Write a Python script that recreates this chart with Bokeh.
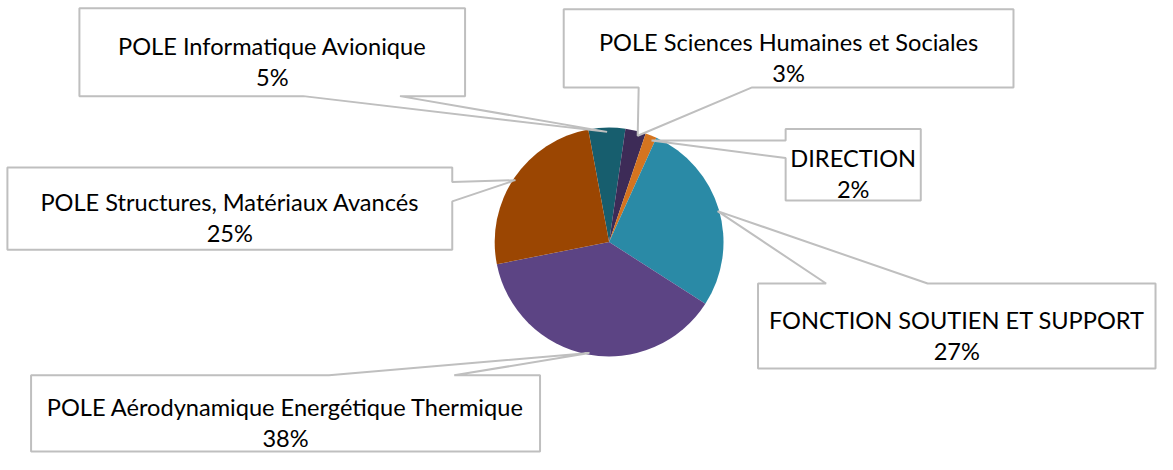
import math
from bokeh.plotting import figure
from bokeh.models import Range1d, ColumnDataSource
from bokeh.embed import file_html
from bokeh.resources import INLINE
from bokeh.core.properties import value

# ---- data (clockwise order, starting near 12 o'clock) ----
categories = [
    "POLE Informatique Avionique",
    "POLE Sciences Humaines et Sociales",
    "DIRECTION",
    "FONCTION SOUTIEN ET SUPPORT",
    "POLE Aérodynamique Energétique Thermique",
    "POLE Structures, Matériaux Avancés",
]
shares = [5.2, 2.9, 1.6, 27.3, 37.8, 25.2]
colors = ["#175E6E", "#3D2B57", "#D5741F", "#2A8AA6", "#5C4484", "#9B4602"]

# ---- layout (reference pixel coordinates, y measured downward) ----
W, H = 1173, 470
CX, CY, R = 617, 250, 116
START_DEG = -10.5  # angle of first slice, clockwise from 12 o'clock

# callout boxes: (x0, x1, y0, y1, side, a, b, tipx, tipy)
callouts = [
    (80, 471, 8, 99, "bottom", 307, 405, 615, 136),
    (571, 1027, 9, 90, "bottom", 647, 762, 646, 140),
    (796, 933, 133, 207, "left", 145, 163, 660, 145),
    (768, 1171, 293, 381, "top", 837, 940, 727, 218),
    (31, 547, 388, 467, "top", 333, 460, 597, 365),
    (7, 458, 173, 258, "right", 188, 208, 522, 186),
]

p = figure(width=1157, height=454, output_backend="svg", toolbar_location=None,
           x_range=Range1d(0, W), y_range=Range1d(0, H),
           min_border=0, outline_line_color=None, background_fill_color="white",
           border_fill_color="white")
p.axis.visible = False
p.grid.visible = False

# pie
total = sum(shares)
starts, ends = [], []
cum = START_DEG
for v in shares:
    a0 = cum
    a1 = cum + v / total * 360.0
    starts.append(math.pi / 2 - math.radians(a0))
    ends.append(math.pi / 2 - math.radians(a1))
    cum = a1
src = ColumnDataSource(dict(cat=categories, share=shares, color=colors,
                            start=starts, end=ends))
p.wedge(x=CX, y=H - CY, radius=R, start_angle="start", end_angle="end",
        direction="clock", fill_color="color", line_color=None, source=src)

# callouts
xs, ys = [], []
for (x0, x1, y0, y1, side, a, b, tx, ty) in callouts:
    if side == "bottom":
        pts = [(x0, y0), (x1, y0), (x1, y1), (b, y1), (tx, ty), (a, y1), (x0, y1)]
    elif side == "top":
        pts = [(x0, y0), (a, y0), (tx, ty), (b, y0), (x1, y0), (x1, y1), (x0, y1)]
    elif side == "left":
        pts = [(x0, y0), (x1, y0), (x1, y1), (x0, y1), (x0, b), (tx, ty), (x0, a)]
    else:  # right
        pts = [(x0, y0), (x1, y0), (x1, a), (tx, ty), (x1, b), (x1, y1), (x0, y1)]
    xs.append([q[0] for q in pts])
    ys.append([H - q[1] for q in pts])
p.patches(xs=xs, ys=ys, fill_color="white", line_color="#BFBFBF", line_width=2)

pct_labels = [f"{round(v / total * 100)}%" for v in shares]
lx = [(c[0] + c[1]) / 2 for c in callouts]
ly1 = [H - ((c[2] + c[3]) / 2 - 6.5) for c in callouts]
ly2 = [H - ((c[2] + c[3]) / 2 + 25.5) for c in callouts]
font = value("Lato")
p.text(x=lx, y=ly1, text=categories, text_align="center", text_baseline="alphabetic",
       text_font=font, text_font_size="23.6px", text_color="black")
p.text(x=lx, y=ly2, text=pct_labels, text_align="center", text_baseline="alphabetic",
       text_font=font, text_font_size="23.6px", text_color="black")

open("out.html", "w").write(file_html(p, INLINE))
